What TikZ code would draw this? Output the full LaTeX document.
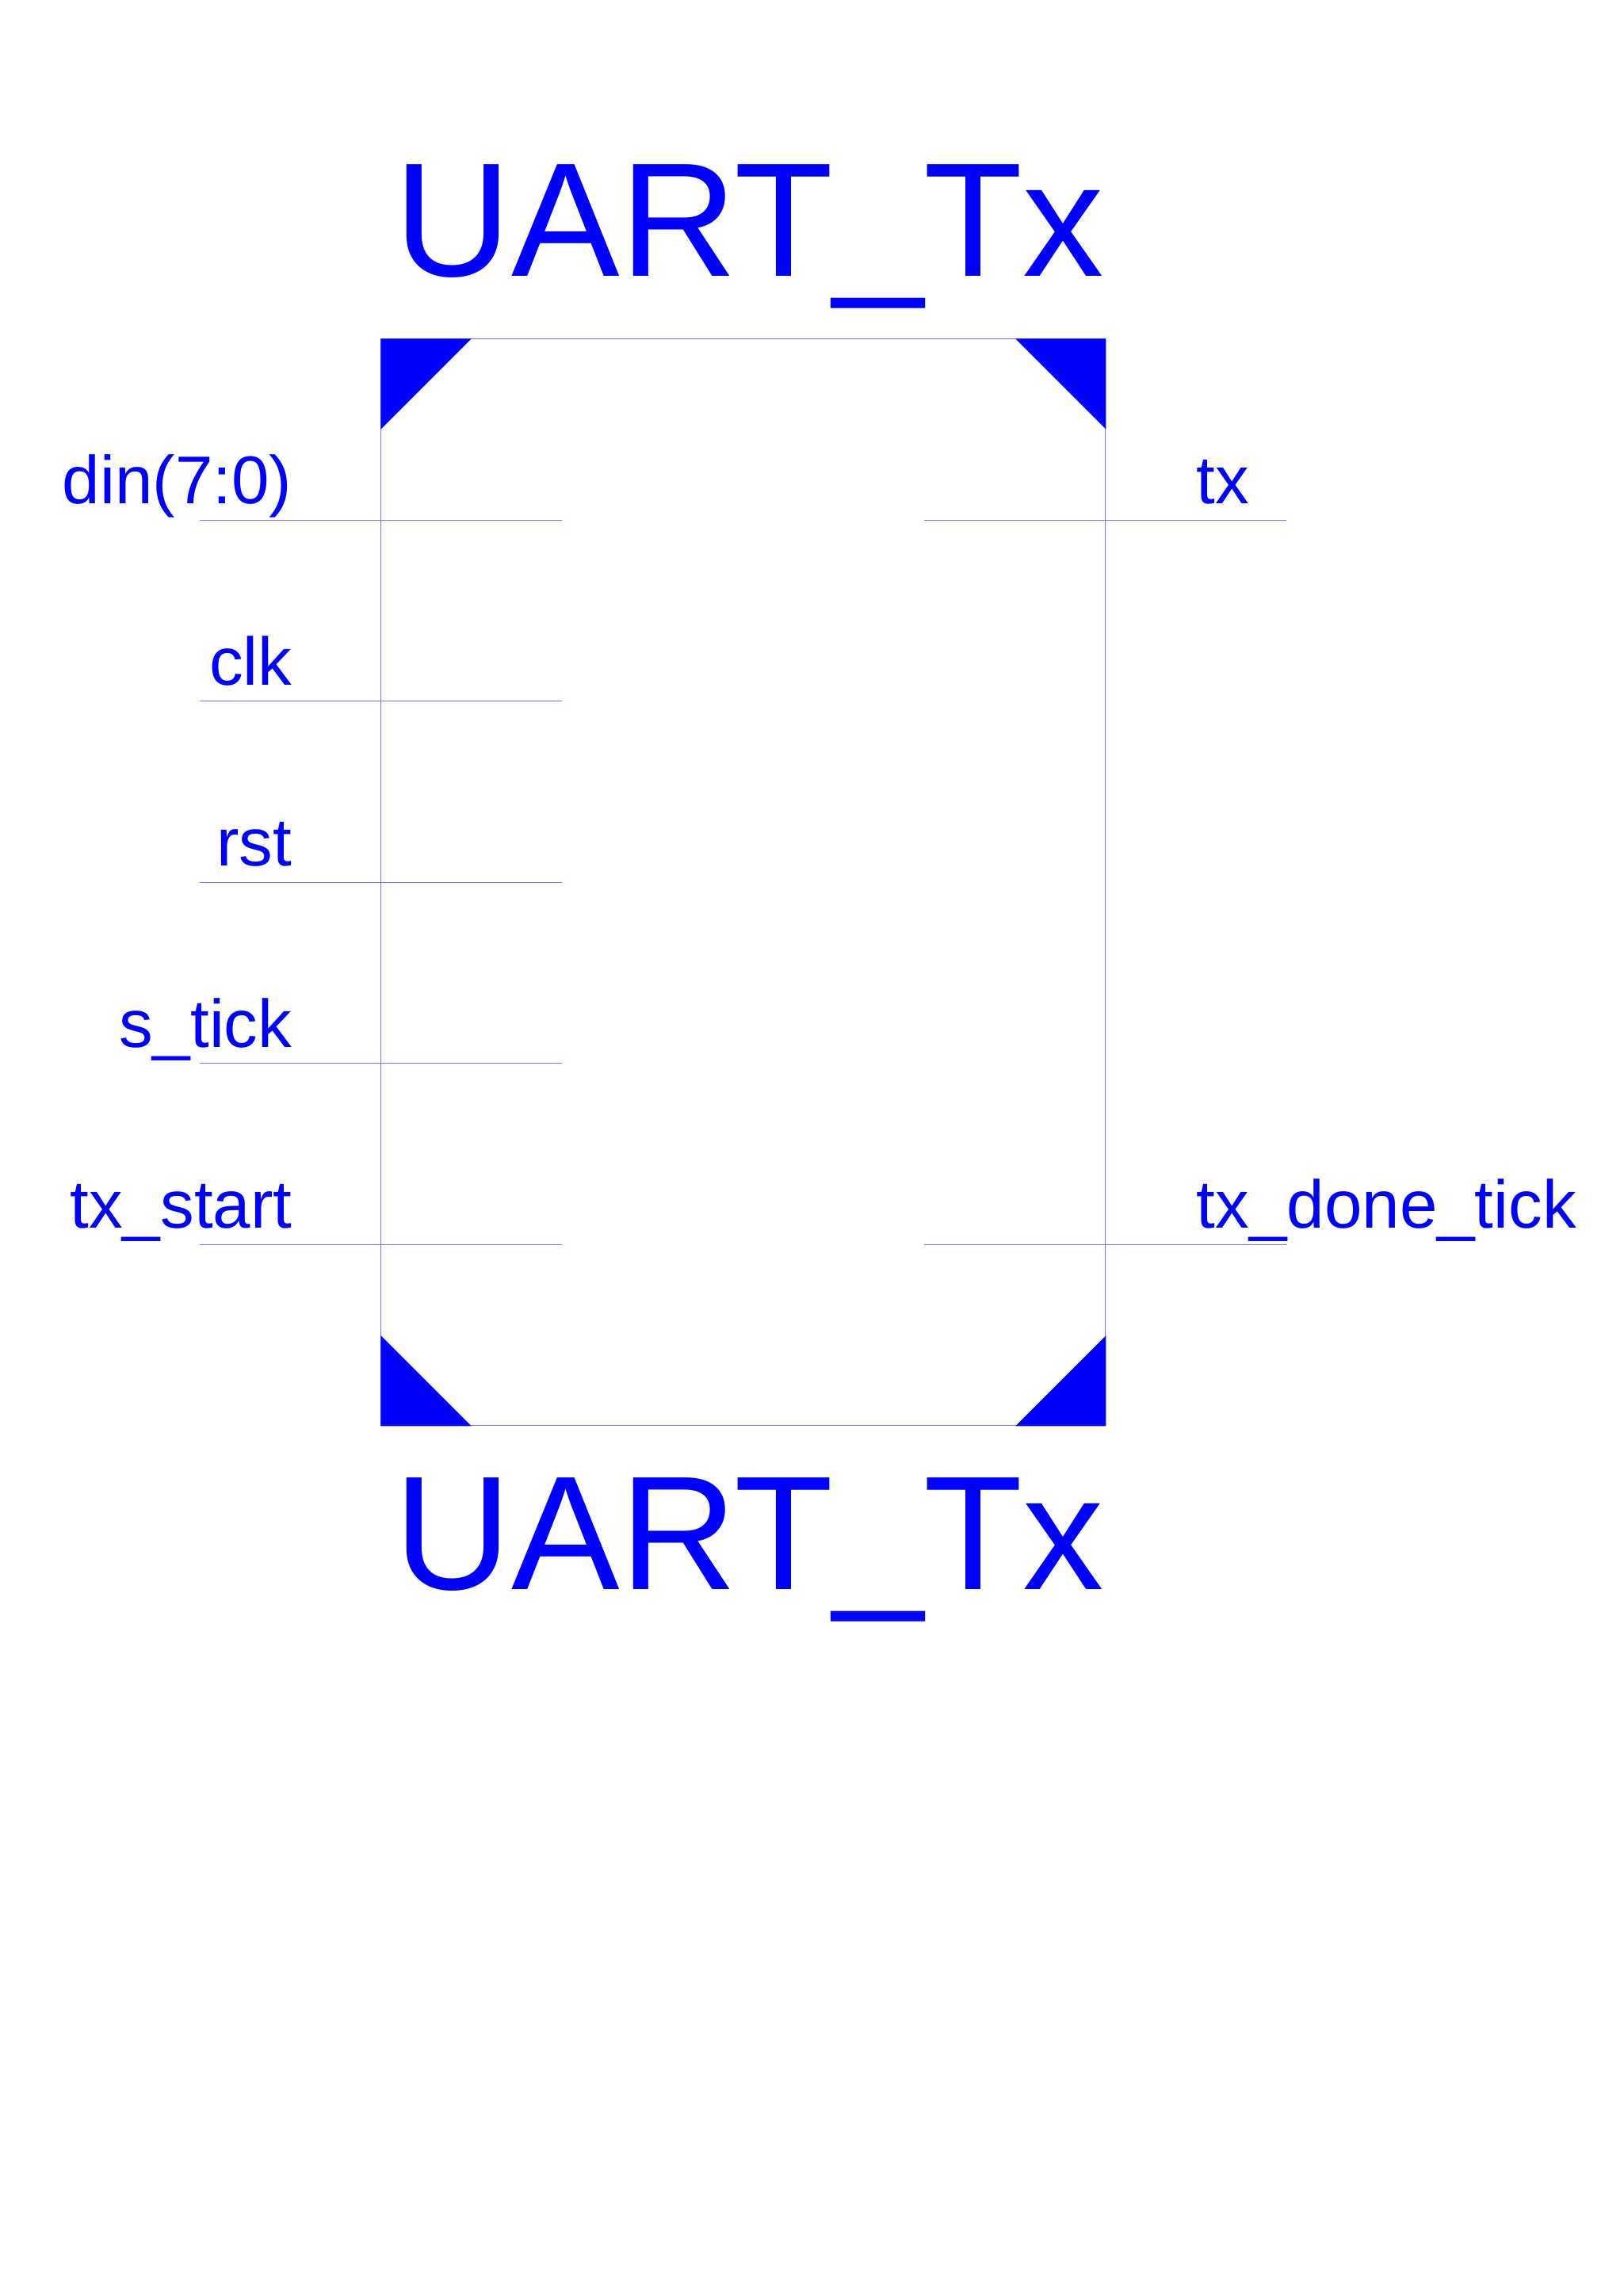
\documentclass[tikz,border=0pt]{standalone}
\usepackage{fontspec}
\setmainfont{Liberation Sans}
\usepackage{tikz}

\tikzset{
  wire/.style={draw=blue!55, line width=0.3pt},
  pinlabel/.style={text=blue, font=\fontsize{24.8}{29}\selectfont, inner sep=0pt},
  title/.style={text=blue, font=\fontsize{59.5}{70}\selectfont, inner sep=0pt},
  corner/.style={fill=blue},
}

\begin{document}
\begin{tikzpicture}[x=66.4pt,y=-66.4pt]
\useasboundingbox [fill=white] (-2.105,-1.873) rectangle ++(8.965,12.679);

\node (box) [wire, minimum width=265.6pt, minimum height=398.4pt, inner sep=0pt] at (2,3) {};

% corner marks
\fill [corner] (box.north west) -- ++(0.5,0) -- ++(-0.5,0.5) -- cycle;
\fill [corner] (box.north east) -- ++(-0.5,0) -- ++(0.5,0.5) -- cycle;
\fill [corner] (box.south west) -- ++(0.5,0) -- ++(-0.5,-0.5) -- cycle;
\fill [corner] (box.south east) -- ++(-0.5,0) -- ++(0.5,-0.5) -- cycle;

\node (toptitle) [title, anchor=base west] at (0.07,-0.346) {UART\_Tx};
\node (bottitle) [title, anchor=base west] at (0.07,6.905) {UART\_Tx};

% inputs
\foreach \nm/\txt/\y in {din/din(7:0)/1, clk/clk/2, rst/rst/3, stick/s\_tick/4, txstart/tx\_start/5}{
  \coordinate (\nm-a) at (-1,\y);
  \coordinate (\nm-b) at (1,\y);
  \draw [wire] (\nm-a) -- (\nm-b);
  \node (\nm-lbl) [pinlabel, anchor=base east] at (-0.49,\y-0.09) {\txt};
}

% outputs
\foreach \nm/\txt/\y in {tx/tx/1, txdone/tx\_done\_tick/5}{
  \coordinate (\nm-a) at (3,\y);
  \coordinate (\nm-b) at (5,\y);
  \draw [wire] (\nm-a) -- (\nm-b);
  \node (\nm-lbl) [pinlabel, anchor=base west] at (4.5,\y-0.09) {\txt};
}
\end{tikzpicture}
\end{document}
